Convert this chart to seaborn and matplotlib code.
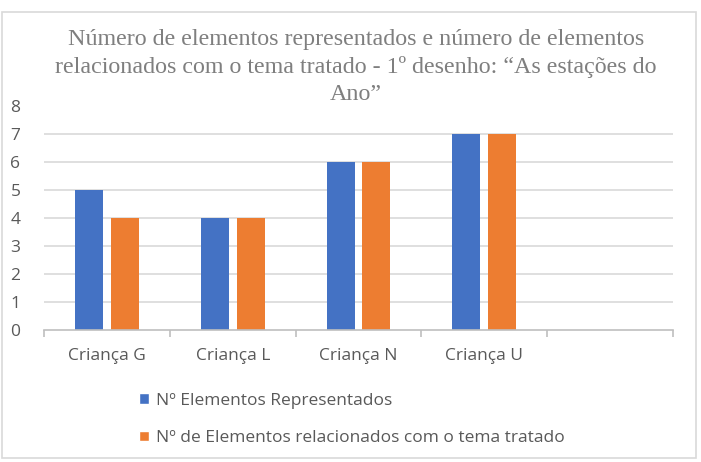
import matplotlib
matplotlib.use("Agg")
import matplotlib.pyplot as plt
from matplotlib.patches import Rectangle
import seaborn as sns
import pandas as pd

categories = ["Criança G", "Criança L", "Criança N", "Criança U", ""]
series_names = ["Nº Elementos Representados",
                "Nº de Elementos relacionados com o tema tratado"]
representados = [5, 4, 6, 7]
relacionados = [4, 4, 6, 7]
title = ("Número de elementos representados e número de elementos\n"
         "relacionados com o tema tratado - 1º desenho: “As estações do\n"
         "Ano”")

rows = []
for c, v in zip(categories[:4], representados):
    rows.append({"cat": c, "serie": series_names[0], "val": v})
for c, v in zip(categories[:4], relacionados):
    rows.append({"cat": c, "serie": series_names[1], "val": v})
df = pd.DataFrame(rows)

sns.set_theme(style="white")
plt.rcParams['font.family'] = ['Open Sans', 'DejaVu Sans']

W, H = 701, 462
fig = plt.figure(figsize=(W / 100, H / 100), dpi=100)
ax = fig.add_axes([44 / W, 1 - 330 / H, (673 - 44) / W, (330 - 106) / H])

colors = ["#4472C4", "#ED7D31"]
sns.barplot(data=df, x="cat", y="val", hue="serie", order=categories,
            hue_order=series_names, palette=colors, width=0.571,
            saturation=1, ax=ax, legend=True)

bw = 0.222
for p in ax.patches:
    if p.get_height() > 0 or p.get_width() > 0:
        cx = p.get_x() + p.get_width() / 2
        p.set_width(bw)
        p.set_x(cx - bw / 2)
        p.set_edgecolor("none")

ax.set_xlim(-0.5, 4.5)
ax.set_ylim(0, 8)
ax.set_yticks(range(0, 9))
ax.set_xlabel("")
ax.set_ylabel("")

grid_c = "#d9d9d9"
ax.yaxis.grid(True, color=grid_c, linewidth=1.2)
ax.set_axisbelow(True)
gl = ax.get_ygridlines()
gl[0].set_visible(False)
gl[-1].set_visible(False)

for s in ["top", "right", "left"]:
    ax.spines[s].set_visible(False)
ax.spines["bottom"].set_color("#bfbfbf")
ax.spines["bottom"].set_linewidth(1.2)

fs = 12.5
ax.set_xticks([i - 0.5 for i in range(6)], minor=True)
ax.tick_params(axis="x", which="minor", length=5, color="#bfbfbf", width=1.2, bottom=True)
ax.tick_params(axis="x", which="major", length=0, pad=13, labelsize=fs, labelcolor="#595959")
ax.tick_params(axis="y", length=0, pad=17, labelsize=fs, labelcolor="#595959")

ax.get_legend().remove()
handles, labels = ax.get_legend_handles_labels()
fig.legend(handles[:2], labels[:2], loc="upper left",
           bbox_to_anchor=(139 / W, 1 - 393 / H), frameon=False,
           fontsize=fs, labelcolor="#595959", handlelength=0.58,
           handleheight=0.58, handletextpad=0.4, labelspacing=1.22,
           borderpad=0, borderaxespad=0)

fig.text(356 / W, 1 - 67 / H, title, ha="center", va="center",
         fontsize=17.3, color="#7f7f7f", family=["Liberation Serif"],
         linespacing=1.38)

fig.patches.append(Rectangle((2 / W, 1 - 458 / H), 694 / W, 446 / H,
                             transform=fig.transFigure, fill=False,
                             edgecolor="#d9d9d9", linewidth=1.2))

fig.savefig("out.png", dpi=100)
